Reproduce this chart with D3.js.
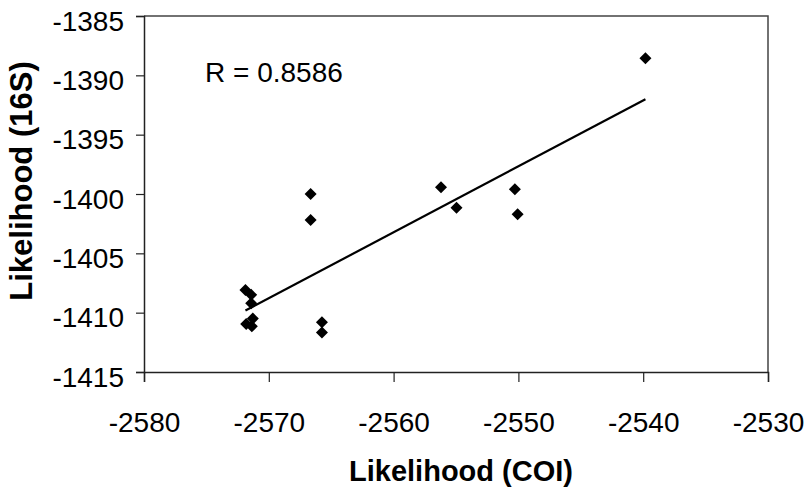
<!DOCTYPE html>
<html>
<head>
<meta charset="utf-8">
<script src="https://cdn.jsdelivr.net/npm/d3@7"></script>
<style>
  body { margin: 0; background: #fff; }
  svg { display: block; font-family: Arial, "Liberation Sans", sans-serif; }
</style>
</head>
<body>
<div id="chart"></div>
<script>
// likelihood pairs
let coi = [-2566.65, -2566.65, -2556.2, -2554.96, -2571.87, -2571.41, -2571.41,
    -2571.81, -2571.28, -2571.36, -2565.74, -2565.74, -2550.28, -2550.06, -2539.82]
let s16 = [-1400.0, -1402.2, -1399.44, -1401.16, -1408.08, -1408.5, -1409.2,
    -1410.96, -1410.5, -1411.15, -1410.8, -1411.67, -1399.59, -1401.7, -1388.57]
let xTicks = [-2580, -2570, -2560, -2550, -2540, -2530]
let yTicks = [-1385, -1390, -1395, -1400, -1405, -1410, -1415]
let rLabel = "R = 0.8586"

let width = 809
let height = 491
let padL = 144, padR = 768, padT = 16, padB = 372

let svg = d3.select("#chart").append("svg")
    .attr("width", width)
    .attr("height", height)

let x = d3.scaleLinear().domain([-2580, -2530]).range([padL, padR])
let y = d3.scaleLinear().domain([-1415, -1385]).range([padB, padT])

// plot area frame (top + right)
svg.append("path")
    .attr("d", "M" + padL + "," + padT + "H" + padR + "V" + padB)
    .attr("fill", "none")
    .attr("stroke", "#444")
    .attr("stroke-width", 1.5)

let xAxis = svg.append("g")
    .attr("transform", "translate(0," + padB + ")")
    .call(d3.axisBottom(x).tickValues(xTicks).tickSize(10).tickPadding(30).tickFormat(d3.format("d")))
let yAxis = svg.append("g")
    .attr("transform", "translate(" + padL + ",0)")
    .call(d3.axisLeft(y).tickValues(yTicks).tickSize(8).tickPadding(12).tickFormat(d3.format("d")))

for (let ax of [xAxis, yAxis]) {
    ax.select(".domain").attr("stroke", "#222").attr("stroke-width", 1.5)
    ax.selectAll(".tick line").attr("stroke", "#222").attr("stroke-width", 1.2)
    ax.selectAll(".tick text")
        .attr("fill", "#000")
        .style("font-size", "28px")
        .style("font-family", "Arial, 'Liberation Sans', sans-serif")
        .text(d => d < 0 ? "-" + Math.abs(d) : d)
}
yAxis.selectAll(".tick text").attr("dy", "0.5em")

// least squares trend line
let pts = coi.map((c, i) => [c, s16[i]])
let mx = d3.mean(coi), my = d3.mean(s16)
let sxy = d3.sum(pts, p => (p[0] - mx) * (p[1] - my))
let sxx = d3.sum(pts, p => (p[0] - mx) * (p[0] - mx))
let slope = sxy / sxx
let icpt = my - slope * mx
let xr = d3.extent(coi)

svg.append("line")
    .attr("x1", x(xr[0])).attr("y1", y(icpt + slope * xr[0]))
    .attr("x2", x(xr[1])).attr("y2", y(icpt + slope * xr[1]))
    .attr("stroke", "#000")
    .attr("stroke-width", 2.2)

svg.selectAll("path.pt")
    .data(pts)
    .enter()
    .append("path")
    .attr("class", "pt")
    .attr("transform", d => "translate(" + x(d[0]) + "," + y(d[1]) + ")")
    .attr("d", "M0,-6L6,0L0,6L-6,0Z")
    .attr("fill", "#000")

svg.append("text")
    .attr("x", 205)
    .attr("y", 82)
    .style("font-size", "28px")
    .text(rLabel)

svg.append("text")
    .attr("x", (padL + padR) / 2 + 5)
    .attr("y", 481)
    .attr("text-anchor", "middle")
    .style("font-size", "29px")
    .style("font-weight", "bold")
    .text("Likelihood (COI)")

svg.append("text")
    .attr("transform", "translate(32,181) rotate(-90)")
    .attr("text-anchor", "middle")
    .style("font-size", "31px")
    .style("font-weight", "bold")
    .text("Likelihood (16S)")
</script>
</body>
</html>
